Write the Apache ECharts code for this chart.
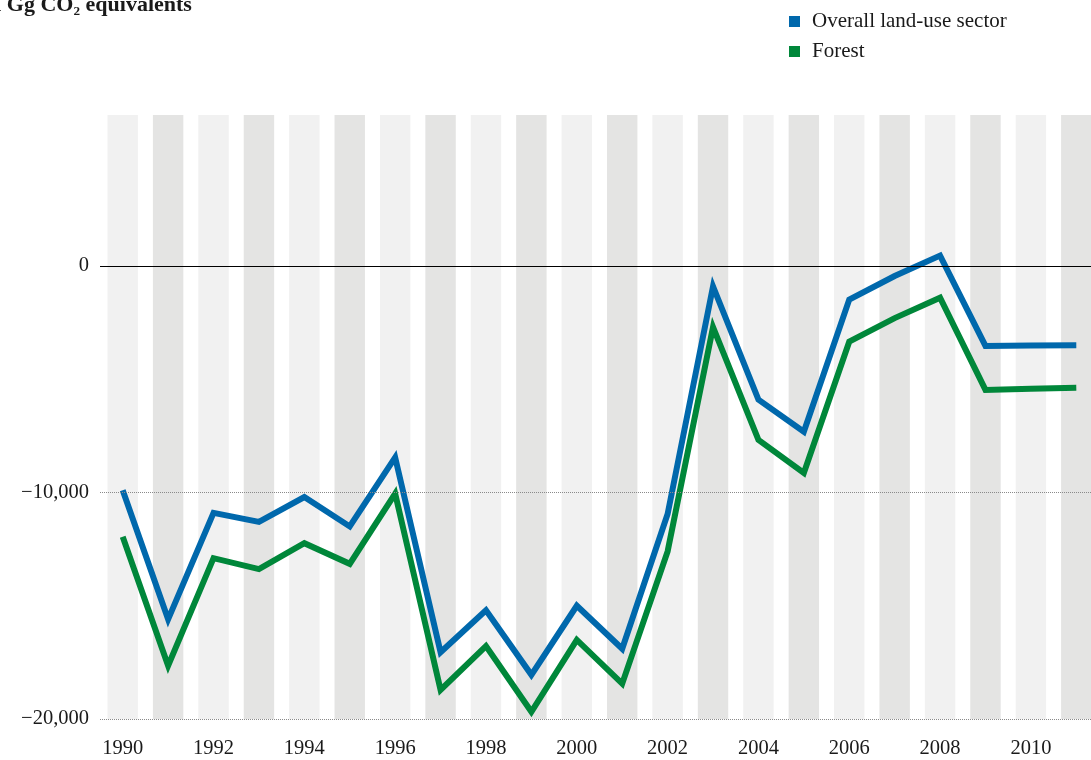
<!DOCTYPE html>
<html>
<head>
<meta charset="utf-8">
<script src="https://cdn.jsdelivr.net/npm/echarts@6/dist/echarts.min.js"></script>
<style>
  html, body { margin: 0; padding: 0; background: #fff; }
  #main { width: 1091px; height: 760px; }
</style>
</head>
<body>
<div id="main"></div>
<script>
// years on the x axis
var years = ['1990','1991','1992','1993','1994','1995','1996','1997','1998','1999','2000',
             '2001','2002','2003','2004','2005','2006','2007','2008','2009','2010','2011'];
// in Gg CO2 equivalents
var overall = [-9900, -15600, -10900, -11300, -10200, -11500, -8450, -17050, -15200, -18050, -15000,
               -16900, -10950, -900, -5900, -7320, -1480, -440, 460, -3530, -3510, -3500];
var forest = [-11950, -17650, -12900, -13380, -12240, -13150, -10050, -18720, -16780, -19680, -16510,
              -18440, -12600, -2700, -7680, -9140, -3340, -2300, -1400, -5470, -5420, -5380];
// background year bands reach from the bottom line to the top of the plot
var bandTop = 6667;
var bandBottom = -20000;
var refLines = [0, -10000, -20000];

var bandTopData = years.map(function () { return bandTop; });
var bandBottomData = years.map(function () { return bandBottom; });

var serif = '"Liberation Serif", "DejaVu Serif", serif';

function bandColor(p) {
  return p.dataIndex % 2 === 0 ? '#f1f1f1' : '#e4e4e3';
}

function fmt(v) {
  var s = Math.abs(v).toString().replace(/\B(?=(\d{3})+(?!\d))/g, ',');
  return (v < 0 ? '\u2212' : '') + s;
}

var myChart = echarts.init(document.getElementById('main'));

var option = {
  animation: false,
  backgroundColor: '#fff',
  graphic: [{
    type: 'text',
    left: -17,
    top: -6,
    style: {
      text: 'in Gg CO\u2082 equivalents',
      font: 'bold 22px ' + serif,
      fill: '#1a1a1a'
    }
  }],
  legend: {
    data: ['Overall land-use sector', 'Forest'],
    orient: 'vertical',
    left: 784,
    top: 6,
    icon: 'rect',
    itemWidth: 11,
    itemHeight: 11,
    itemGap: 9,
    textStyle: { fontFamily: serif, fontSize: 21, lineHeight: 20, color: '#1a1a1a', padding: [0, 0, 0, 7] }
  },
  grid: { left: 100, top: 115, width: 999, bottom: 41, outerBoundsMode: 'none' },
  xAxis: {
    type: 'category',
    data: years,
    boundaryGap: true,
    axisLine: { show: false },
    axisTick: { show: false },
    axisLabel: { interval: 1, margin: 19, fontFamily: serif, fontSize: 20.5, color: '#1a1a1a' }
  },
  yAxis: {
    type: 'value',
    min: -20000,
    max: bandTop,
    interval: 10000,
    axisLine: { show: false },
    axisTick: { show: false },
    splitLine: { show: false },
    axisLabel: {
      showMaxLabel: false,
      margin: 11,
      fontFamily: serif,
      fontSize: 20.5,
      color: '#1a1a1a',
      formatter: fmt
    }
  },
  series: [
    {
      type: 'bar',
      data: bandTopData,
      barWidth: '67%',
      barGap: '-100%',
      silent: true,
      z: 1,
      itemStyle: { color: bandColor }
    },
    {
      type: 'bar',
      data: bandBottomData,
      barWidth: '67%',
      barGap: '-100%',
      silent: true,
      z: 1,
      itemStyle: { color: bandColor },
      markLine: {
        silent: true,
        symbol: 'none',
        label: { show: false },
        data: refLines.map(function (v) {
          return {
            yAxis: v,
            lineStyle: v === 0
              ? { color: '#000', width: 1.2, type: 'solid' }
              : { color: '#8a8a8a', width: 1, type: [1, 1] }
          };
        })
      }
    },
    {
      name: 'Overall land-use sector',
      type: 'line',
      data: overall,
      z: 4,
      symbol: 'none',
      lineStyle: { width: 6, color: '#0068ac', join: 'miter' },
      itemStyle: { color: '#0068ac' }
    },
    {
      name: 'Forest',
      type: 'line',
      data: forest,
      z: 3,
      symbol: 'none',
      lineStyle: { width: 6, color: '#00873a', join: 'miter' },
      itemStyle: { color: '#00873a' }
    }
  ]
};

myChart.setOption(option);
</script>
</body>
</html>
